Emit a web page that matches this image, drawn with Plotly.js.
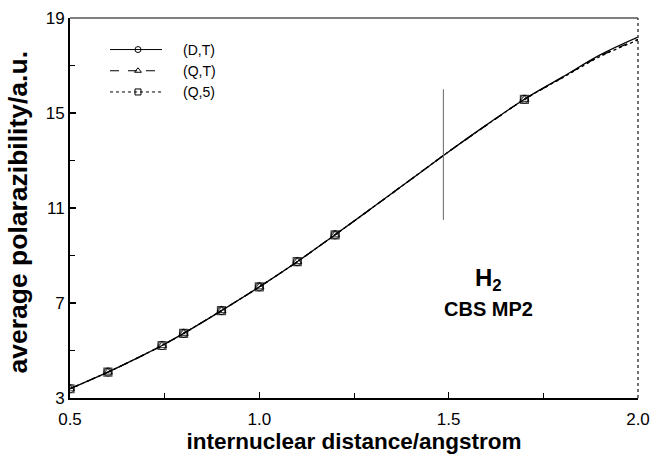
<!DOCTYPE html>
<html>
<head>
<meta charset="utf-8">
<script src="https://cdn.plot.ly/plotly-3.0.1.min.js"></script>
<style>html,body{margin:0;padding:0;background:#fff;}#chart{width:651px;height:454px;}</style>
</head>
<body>
<div id="chart"></div>
<script>
// internuclear distance grid (angstrom)
var distance = [0.5, 0.6, 0.7, 0.743, 0.8, 0.9, 1.0, 1.1, 1.2, 1.3, 1.4, 1.5, 1.6, 1.7, 1.8, 1.9, 2.0];
// distances where the computed points are marked
var markedDistance = [0.5, 0.6, 0.743, 0.8, 0.9, 1.0, 1.1, 1.2, 1.7];
// average polarizability (a.u.)
var polDT = [3.39, 4.09, 4.86, 5.21, 5.72, 6.68, 7.68, 8.74, 9.87, 11.03, 12.20, 13.37, 14.50, 15.58, 16.51, 17.45, 18.20];
var polQT = [3.39, 4.09, 4.86, 5.21, 5.72, 6.68, 7.68, 8.74, 9.87, 11.03, 12.20, 13.37, 14.49, 15.57, 16.49, 17.40, 18.10];
var polQ5 = [3.39, 4.09, 4.86, 5.21, 5.72, 6.68, 7.68, 8.74, 9.87, 11.03, 12.20, 13.37, 14.49, 15.57, 16.48, 17.38, 18.07];
var seriesNames = ['(D,T)', '(Q,T)', '(Q,5)'];
var xTitle = 'internuclear distance/angstrom';
var yTitle = 'average polarazibility/a.u.';
// vertical marker line
var markerLineX = 1.486, markerLineY = [10.5, 16.0];

var FONT = 'Liberation Sans, Arial, Helvetica, sans-serif';
var sizes = distance.map(function (d) { return markedDistance.indexOf(d) >= 0 ? 8 : 0; });
var styles = [['solid', 'circle-open'], ['dash', 'triangle-up-open'], ['dot', 'square-open']];
var series = [polDT, polQT, polQ5];
var data = [];
series.forEach(function (y, i) {
  data.push({
    x: distance, y: y, name: seriesNames[i], type: 'scatter', mode: 'lines+markers', showlegend: false,
    line: {color: '#000', width: 1.3, dash: styles[i][0], shape: 'spline'},
    marker: {symbol: styles[i][1], size: sizes, color: '#000', line: {color: '#000', width: 1.2}}
  });
});
// legend entries
series.forEach(function (y, i) {
  data.push({
    x: [null], y: [null], name: seriesNames[i], type: 'scatter', mode: 'lines+markers', showlegend: true,
    line: {color: '#000', width: 1, dash: styles[i][0]},
    marker: {symbol: styles[i][1], size: 6, color: '#000', line: {color: '#000', width: 1}}
  });
});
var layout = {
  width: 651, height: 454,
  margin: {l: 70, r: 13, t: 18, b: 56},
  paper_bgcolor: '#fff', plot_bgcolor: '#fff',
  font: {family: FONT, color: '#000'},
  showlegend: true,
  legend: {x: 0.0405, y: 0.958, xanchor: 'left', yanchor: 'top', bgcolor: 'rgba(0,0,0,0)',
           font: {size: 14, family: FONT}, itemwidth: 80, tracegroupgap: 0},
  xaxis: {
    range: [0.5, 2.0], tickvals: [0.5, 1.0, 1.5, 2.0], ticktext: ['0.5', '1.0', '1.5', '2.0'],
    ticks: 'inside', ticklen: 6, tickwidth: 1.5, tickcolor: '#000',
    minor: {tickvals: [0.75, 1.25, 1.75], ticks: 'inside', ticklen: 5, tickwidth: 1, tickcolor: '#000'},
    showline: true, linecolor: '#000', linewidth: 2, showgrid: false, zeroline: false,
    tickfont: {size: 17, family: FONT}, ticklabelstandoff: 5,
    title: {text: xTitle, font: {size: 22.5, family: FONT, weight: 'bold'}, standoff: 11},
    automargin: false
  },
  yaxis: {
    range: [3, 19], tickvals: [3, 7, 11, 15, 19],
    ticks: 'inside', ticklen: 6, tickwidth: 1.5, tickcolor: '#000',
    minor: {tickvals: [5, 9, 13, 17], ticks: 'inside', ticklen: 5, tickwidth: 1, tickcolor: '#000'},
    showline: true, linecolor: '#000', linewidth: 2, showgrid: false, zeroline: false,
    tickfont: {size: 17, family: FONT},
    automargin: false
  },
  shapes: [
    {type: 'line', xref: 'x', yref: 'y', x0: markerLineX, x1: markerLineX, y0: markerLineY[0], y1: markerLineY[1],
     line: {color: '#666', width: 1}},
    {type: 'line', xref: 'paper', yref: 'paper', x0: 0, x1: 1, y0: 1, y1: 1, line: {color: '#555', width: 1.5}},
    {type: 'line', xref: 'paper', yref: 'paper', x0: 1, x1: 1, y0: 0, y1: 1, line: {color: '#444', width: 1.5, dash: 'dot'}}
  ],
  annotations: [
    {xref: 'paper', yref: 'paper', x: -0.092, y: 0.49, xanchor: 'center', yanchor: 'middle', textangle: -90,
     text: yTitle, showarrow: false, font: {size: 26.5, family: FONT, weight: 'bold'}},
    {xref: 'x', yref: 'y', x: 1.604, y: 8.0, text: 'H<sub>2</sub>', showarrow: false,
     font: {size: 24, family: FONT, weight: 'bold'}},
    {xref: 'x', yref: 'y', x: 1.604, y: 6.76, text: 'CBS MP2', showarrow: false,
     font: {size: 20, family: FONT, weight: 'bold'}}
  ]
};
Plotly.newPlot('chart', data, layout, {displayModeBar: false, staticPlot: true}).then(function (gd) {
  // lengthen legend line samples to match the reference
  var paths = gd.querySelectorAll('.legend .legendlines path');
  paths.forEach(function (p) { p.setAttribute('d', 'M17,0h52'); });
});
</script>
</body>
</html>
